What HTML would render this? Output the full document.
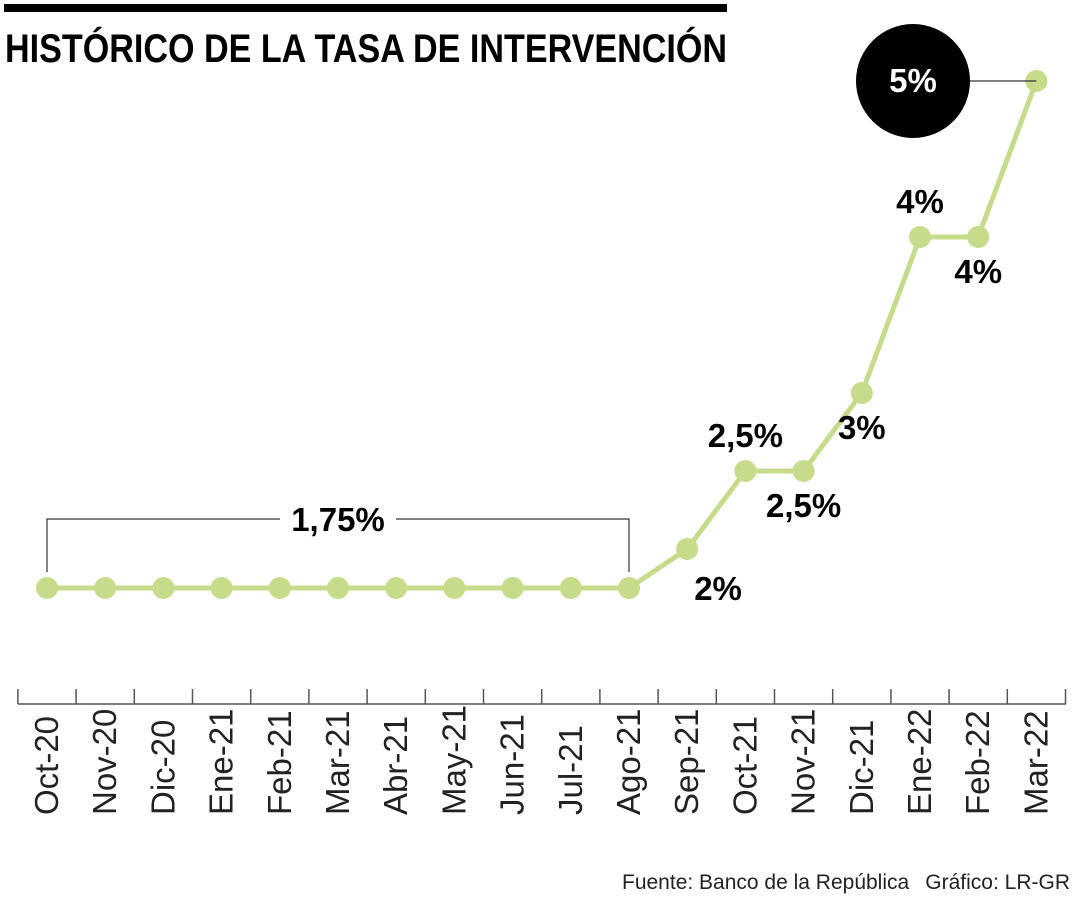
<!DOCTYPE html>
<html><head><meta charset="utf-8"><style>
html,body{margin:0;padding:0;background:#fff}
svg{display:block}
text{font-family:"Liberation Sans Narrow","Liberation Sans",sans-serif}
</style></head><body>
<svg id="chart" width="1080" height="900" viewBox="0 0 1080 900">
<rect x="4" y="4" width="723" height="8" fill="#000"/>
<text x="5" y="62" font-size="40" font-weight="bold" textLength="722" lengthAdjust="spacingAndGlyphs">HISTÓRICO DE LA TASA DE INTERVENCIÓN</text>
<g id="axis"></g>
<g id="bracket"></g>
<g id="series"></g>
<g id="labels"></g>
<text x="622" y="889" font-size="21" fill="#222">Fuente: Banco de la República</text>
<text x="1070" y="889" font-size="21" fill="#222" text-anchor="end">Gráfico: LR-GR</text>
</svg>
<script>
const categories=["Oct-20","Nov-20","Dic-20","Ene-21","Feb-21","Mar-21","Abr-21","May-21","Jun-21","Jul-21","Ago-21","Sep-21","Oct-21","Nov-21","Dic-21","Ene-22","Feb-22","Mar-22"];
const values=[1.75,1.75,1.75,1.75,1.75,1.75,1.75,1.75,1.75,1.75,1.75,2,2.5,2.5,3,4,4,5];
const pointLabels=["","","","","","","","","","","","2%","2,5%","2,5%","3%","4%","4%","5%"];
const labelPos=["","","","","","","","","","","","right","above","below","below","above","below","circle"];
const NS="http://www.w3.org/2000/svg";
const step=58.2, x0=47;
function x(i){return x0+i*step;}
function y(v){return 588-(v-1.75)*156;}
function mk(tag,attrs,parent){const e=document.createElementNS(NS,tag);for(const k in attrs)e.setAttribute(k,attrs[k]);parent.appendChild(e);return e;}
const axis=document.getElementById('axis'),series=document.getElementById('series'),labels=document.getElementById('labels'),bracket=document.getElementById('bracket');
// axis
const al=mk('line',{x1:18,x2:1066,y1:704,y2:704,stroke:'#555','stroke-width':1.5},axis);


for(let i=0;i<=categories.length;i++){
  const tx=x(i)-step/2;
  const t=mk('line',{x1:tx,x2:tx,y1:689,y2:704,stroke:'#555','stroke-width':1.5},axis);
  
  
}
categories.forEach((c,i)=>{
  const t=mk('text',{x:0,y:0,'font-size':33,fill:'#222',transform:`translate(${x(i)+11},815) rotate(-90)`},axis);
  t.textContent=c;
  
  
});
// bracket over the flat 1.75 segment
let flatEnd=0;while(flatEnd+1<values.length&&values[flatEnd+1]===values[0])flatEnd++;
const bx1=x(0),bx2=x(flatEnd),by=519,bb=y(values[0])-16;
const bp=mk('path',{d:`M${bx1},${bb}V${by}H${bx2}V${bb}`,fill:'none',stroke:'#333','stroke-width':1.2},bracket);


const mid=(bx1+bx2)/2;
const br=mk('rect',{x:mid-58,y:by-10,width:116,height:20,fill:'#fff'},bracket);


const bt=mk('text',{x:mid,y:by+12,'font-size':33,'font-weight':'bold','text-anchor':'middle'},bracket);
bt.textContent=String(values[0]).replace('.',',')+'%';


// line
const pl=mk('polyline',{points:values.map((v,i)=>x(i)+','+y(v)).join(' '),fill:'none',stroke:'#c6dc8a','stroke-width':5,'stroke-linejoin':'round'},series);


values.forEach((v,i)=>{
  const c=mk('circle',{cx:x(i),cy:y(v),r:11,fill:'#c6dc8a'},series);
  
  
});
// labels
values.forEach((v,i)=>{
  const p=labelPos[i];if(!p)return;
  const px=x(i),py=y(v);
  if(p==='circle'){
    const cx=913;
    const ln=mk('line',{x1:cx,x2:px,y1:py,y2:py,stroke:'#333','stroke-width':1.2},labels);
    
    
    const cc=mk('circle',{cx:cx,cy:py,r:57,fill:'#000'},labels);
    
    
    const t=mk('text',{x:cx,y:py+11,'font-size':33,'font-weight':'bold',fill:'#fff','text-anchor':'middle'},labels);
    t.textContent=pointLabels[i];
    
    
    return;
  }
  let tx=px,ty,anchor='middle';
  if(p==='above')ty=py-24;
  else if(p==='below')ty=py+46;
  else {tx=px+7;ty=py+51;anchor='start';}
  const t=mk('text',{x:tx,y:ty,'font-size':33,'font-weight':'bold','text-anchor':anchor},labels);
  t.textContent=pointLabels[i];
  
  
});
</script>
</body></html>
